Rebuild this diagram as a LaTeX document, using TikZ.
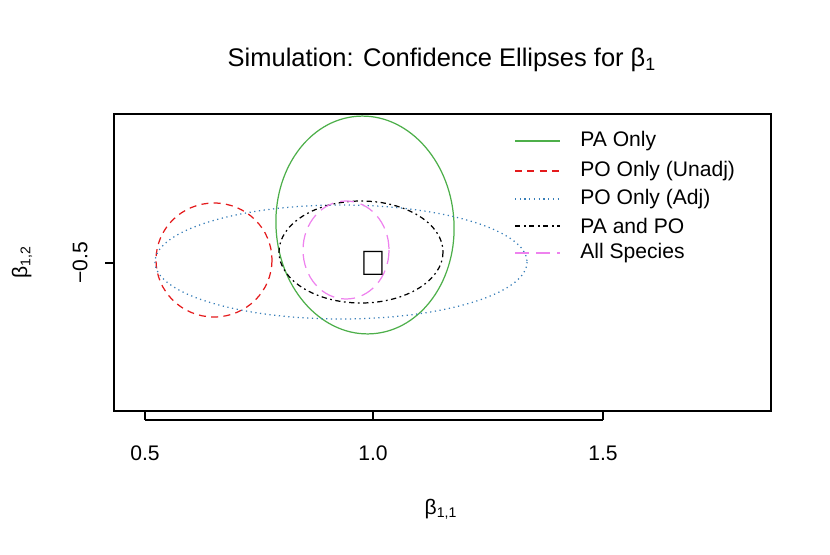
\documentclass[tikz,border=0pt]{standalone}
\usepackage{fontspec}
\setmainfont{Liberation Sans}
\definecolor{paonly}{HTML}{4DAF4A}
\definecolor{pounadj}{HTML}{E41A1C}
\definecolor{poadj}{HTML}{377EB8}
\definecolor{allsp}{HTML}{EE82EE}
\tikzset{
  tick/.style={line width=0.6pt},
  ticklab/.style={font=\fontsize{12}{14}\selectfont},
  leglab/.style={font=\fontsize{12}{14}\selectfont, anchor=west, inner sep=0pt},
  ell/.style={line width=0.7pt},
  sPA/.style={ell, paonly},
  sPOU/.style={ell, pounadj, dash pattern=on 4pt off 3pt},
  sPOA/.style={ell, poadj, dotted},
  sBOTH/.style={ell, black, dash pattern=on 3pt off 2pt on 1pt off 2pt},
  sALL/.style={ell, allsp, dash pattern=on 8pt off 4pt}
}
\begin{document}
\begin{tikzpicture}[x=0.02cm,y=-0.02cm]
  \useasboundingbox (0,0) rectangle (830,554);
  % title
  \node[font=\fontsize{14.5}{17}\selectfont] (title) at (442,60) {Simulation: Confidence Ellipses for β\textsubscript{1}};
  % plot frame
  \draw[line width=0.6pt] (114,114) rectangle (771,411);
  % x axis
  \foreach \px/\lab in {145/0.5, 373/1.0, 603/1.5} {
    \draw[tick] (\px,411) -- (\px,420);
    \node[ticklab] at (\px,453) {\lab};
  }
  \draw[tick] (145,420) -- (603,420);
  \node[ticklab] (xlab) at (441,509) {β\textsubscript{1,1}};
  % y axis
  \draw[tick] (105,263) -- (114,263);
  \node[ticklab, rotate=90] at (80,263) {−0.5};
  \node[ticklab, rotate=90] (ylab) at (22,262) {β\textsubscript{1,2}};
  % ellipses
  \draw[sPA, rotate around={4:(365,225)}] (365,225) ellipse [x radius=89, y radius=109];
  \draw[sPOU] (214,260) ellipse [x radius=58, y radius=57];
  \draw[sPOA] (341,262) ellipse [x radius=186, y radius=57];
  \draw[sBOTH] (361,252) ellipse [x radius=82, y radius=51];
  \draw[sALL] (346,250) ellipse [x radius=43, y radius=49];
  % true value
  \node[font=\fontsize{20}{20}\selectfont, inner sep=0pt] (truth) at (373,263) {\raisebox{-0.25ex}{∗}};
  % legend
  \foreach \yy/\st/\lab in {141/sPA/PA Only, 171/sPOU/PO Only (Unadj),
      199/sPOA/PO Only (Adj), 226/sBOTH/PA and PO, 253/sALL/All Species} {
    \draw[\st] (515,\yy) -- (560,\yy);
    \node[leglab] at (580,\yy) {\lab};
  }
\end{tikzpicture}
\end{document}
